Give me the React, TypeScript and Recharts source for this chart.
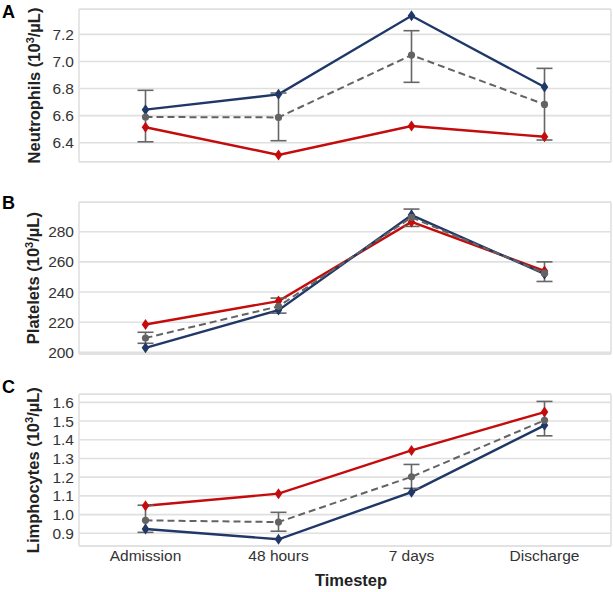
import React from 'react';
import { LineChart, Line, XAxis, YAxis, CartesianGrid, ErrorBar, ReferenceLine, Label } from 'recharts';

const categories = ['Admission', '48 hours', '7 days', 'Discharge'];

const neutBlue = [6.644, 6.757, 7.337, 6.811];
const neutGray = [6.59, 6.587, 7.047, 6.683];
const neutRed = [6.514, 6.31, 6.523, 6.444];
const neutLow = [6.407, 6.415, 6.846, 6.42];
const neutHigh = [6.787, 6.767, 7.227, 6.949];
const neutTicks = [6.4, 6.6, 6.8, 7.0, 7.2];

const platBlue = [203, 228, 291, 252];
const platGray = [209.5, 230.5, 289.5, 252.5];
const platRed = [218.5, 234, 286.5, 254];
const platLow = [206, 226, 283.5, 247];
const platHigh = [213.3, 236, 295, 260];
const platTicks = [200, 220, 240, 260, 280];

const lymBlue = [0.923, 0.868, 1.12, 1.477];
const lymGray = [0.969, 0.96, 1.202, 1.504];
const lymRed = [1.047, 1.112, 1.343, 1.548];
const lymLow = [0.905, 0.911, 1.14, 1.421];
const lymHigh = [1.05, 1.012, 1.268, 1.605];
const lymTicks = [0.9, 1.0, 1.1, 1.2, 1.3, 1.4, 1.5, 1.6];

const BLUE = '#1f3868';
const RED = '#c40c0c';
const GRAY = '#636363';
const GRID = '#e0e0e0';
const FONT = '"Liberation Sans", Arial, Helvetica, sans-serif';

function buildData(blue: number[], gray: number[], red: number[], low: number[], high: number[]) {
  return categories.map((c, i) => ({
    cat: c,
    blue: blue[i],
    gray: gray[i],
    red: red[i],
    err: [gray[i] - low[i], high[i] - gray[i]],
  }));
}

const Diamond = (color: string) => (props: any) => {
  const { cx, cy, index } = props;
  if (cx == null || cy == null) return <g key={`d${index}`} />;
  return (
    <path
      key={`d${index}`}
      d={`M${cx},${cy - 5.5} L${cx + 3.8},${cy} L${cx},${cy + 5.5} L${cx - 3.8},${cy} Z`}
      fill={color}
    />
  );
};

const Circle = (color: string) => (props: any) => {
  const { cx, cy, index } = props;
  if (cx == null || cy == null) return <g key={`c${index}`} />;
  return <circle key={`c${index}`} cx={cx} cy={cy} r={3.6} fill={color} />;
};

type PanelProps = {
  data: any[];
  domain: [number, number];
  ticks: number[];
  fmt: (v: number) => string;
  title: string;
  top: number;
  height: number;
  marginTop: number;
  marginBottom: number;
  showX: boolean;
};

const Panel = ({ data, domain, ticks, fmt, title, top, height, marginTop, marginBottom, showX }: PanelProps) => {
  return (
    <div style={{ position: 'absolute', left: 0, top, width: 613, height }}>
      <LineChart
        width={613}
        height={height}
        data={data}
        margin={{ top: marginTop, right: 2, bottom: marginBottom, left: 0 }}
      >
        <CartesianGrid
          stroke={GRID}
          strokeWidth={1.6}
          verticalCoordinatesGenerator={(p: any) => {
            const o = p && p.offset ? p.offset : { left: 79, width: 532 };
            return [o.left, o.left + o.width];
          }}
        />
        <ReferenceLine y={domain[0]} stroke={GRID} strokeWidth={1.6} />
        <ReferenceLine y={domain[1]} stroke={GRID} strokeWidth={1.6} />
        <XAxis
          dataKey="cat"
          hide={!showX}
          padding={{ left: 66.5, right: 66.5 }}
          tickLine={false}
          axisLine={false}
          tickSize={0}
          tickMargin={4}
          height={46}
          interval={0}
          tick={{ fontSize: 15.5, fill: '#333', fontFamily: FONT }}
        >
          {showX && (
            <Label
              content={(lp: any) => {
                const vb = lp.viewBox || { x: 79, y: 546, width: 532, height: 46 };
                return (
                  <text
                    x={vb.x + vb.width / 2 + 6}
                    y={vb.y + 40}
                    textAnchor="middle"
                    fontSize={16.5}
                    fontWeight="bold"
                    fill="#222"
                    fontFamily={FONT}
                  >
                    Timestep
                  </text>
                );
              }}
            />
          )}
        </XAxis>
        <YAxis
          type="number"
          domain={domain}
          ticks={ticks}
          interval={0}
          allowDataOverflow
          width={79}
          tickLine={false}
          axisLine={false}
          tickSize={0}
          tickMargin={5}
          tickFormatter={fmt}
          tick={{ fontSize: 15.5, fill: '#333', fontFamily: FONT }}
        >
          <Label
            content={(lp: any) => {
              const vb = lp.viewBox || { x: 0, y: marginTop, width: 79, height: 150 };
              const x = vb.x + 39.5;
              const cy = vb.y + vb.height / 2;
              return (
                <text
                  x={x}
                  y={cy}
                  transform={`rotate(-90, ${x}, ${cy})`}
                  textAnchor="middle"
                  fontSize={16.5}
                  fontWeight="bold"
                  fill="#222"
                  fontFamily={FONT}
                >
                  {title} (10
                  <tspan dy={-6} fontSize={11}>3</tspan>
                  <tspan dy={6}>/µL)</tspan>
                </text>
              );
            }}
          />
        </YAxis>
        <Line
          dataKey="red"
          stroke={RED}
          strokeWidth={2.4}
          dot={Diamond(RED)}
          activeDot={false}
          isAnimationActive={false}
        />
        <Line
          dataKey="blue"
          stroke={BLUE}
          strokeWidth={2.4}
          dot={Diamond(BLUE)}
          activeDot={false}
          isAnimationActive={false}
        />
        <Line
          dataKey="gray"
          stroke={GRAY}
          strokeWidth={2}
          strokeDasharray="7 4"
          dot={Circle(GRAY)}
          activeDot={false}
          isAnimationActive={false}
        >
          <ErrorBar dataKey="err" width={8} stroke="#666" strokeWidth={1.6} direction="y" isAnimationActive={false} />
        </Line>
      </LineChart>
    </div>
  );
};

const f1 = (v: number) => v.toFixed(1);
const f0 = (v: number) => String(Math.round(v));

export default function App() {
  const neutData = buildData(neutBlue, neutGray, neutRed, neutLow, neutHigh);
  const platData = buildData(platBlue, platGray, platRed, platLow, platHigh);
  const lymData = buildData(lymBlue, lymGray, lymRed, lymLow, lymHigh);
  return (
    <div style={{ position: 'absolute', left: 0, top: 0, width: 613, height: 592, background: '#fff', fontFamily: FONT }}>
      <Panel data={neutData} domain={[6.26, 7.385]} ticks={neutTicks} fmt={f1} title="Neutrophils"
        top={0} height={175} marginTop={9.3} marginBottom={13.3} showX={false} />
      <Panel data={platData} domain={[198.9, 299.5]} ticks={platTicks} fmt={f0} title="Platelets"
        top={190} height={175} marginTop={12.3} marginBottom={11} showX={false} />
      <Panel data={lymData} domain={[0.832, 1.643]} ticks={lymTicks} fmt={f1} title="Limphocytes"
        top={380} height={212} marginTop={14.3} marginBottom={0} showX={true} />
      <svg width={613} height={592} style={{ position: 'absolute', left: 0, top: 0, pointerEvents: 'none' }}>
        <text x={2} y={17.5} fontSize={18} fontWeight="bold" fill="#000" fontFamily={FONT}>A</text>
        <text x={2} y={208.5} fontSize={18} fontWeight="bold" fill="#000" fontFamily={FONT}>B</text>
        <text x={2} y={392.5} fontSize={18} fontWeight="bold" fill="#000" fontFamily={FONT}>C</text>
      </svg>
    </div>
  );
}
